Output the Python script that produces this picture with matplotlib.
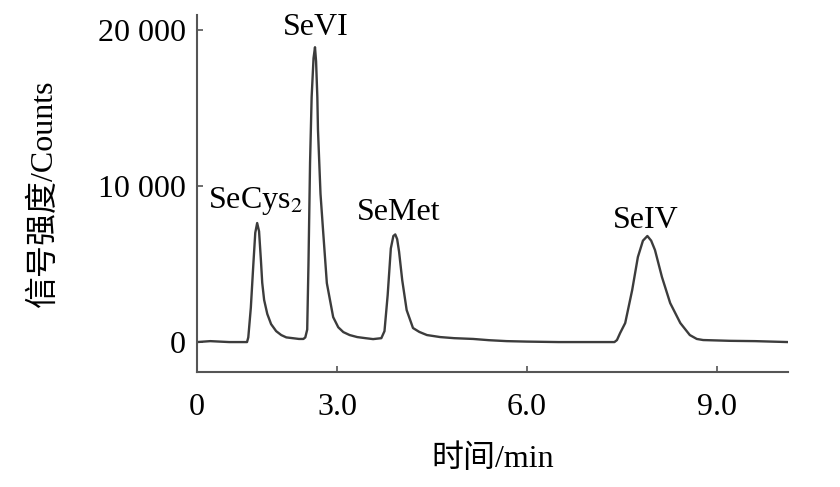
import matplotlib
matplotlib.use('Agg')
import matplotlib.pyplot as plt

plt.rcParams['font.family'] = ['Liberation Serif', 'Noto Sans CJK SC']
plt.rcParams['mathtext.fontset'] = 'stix'

# 色谱图数据
time_min = [0.79, 1.00, 1.30, 1.58,
            1.60, 1.64, 1.68, 1.71, 1.74, 1.77, 1.80, 1.82, 1.85, 1.90, 1.96, 2.04, 2.12, 2.20, 2.30, 2.40,
            2.47,
            2.50, 2.53, 2.55, 2.575, 2.60, 2.63, 2.653, 2.67, 2.69, 2.70, 2.74, 2.78, 2.84, 2.94, 3.02, 3.10,
            3.20, 3.32, 3.45, 3.57, 3.70,
            3.75, 3.80, 3.85, 3.89, 3.92, 3.95, 3.98, 4.03, 4.10, 4.20, 4.30, 4.42, 4.63, 4.85, 5.15, 5.40,
            5.68, 6.00, 6.50, 7.00, 7.38,
            7.42, 7.47, 7.55, 7.66, 7.75, 7.83, 7.90, 7.96, 8.02, 8.13, 8.26, 8.42, 8.57, 8.68, 8.78, 9.20,
            9.60, 10.12]
counts = [0, 60, 0, 0,
          300, 2200, 5000, 7000, 7630, 7100, 5200, 3800, 2700, 1800, 1150, 700, 450, 300, 250, 200,
          200,
          300, 800, 5000, 11500, 15700, 18200, 18900, 18000, 15700, 13600, 9500, 7180, 3780, 1600, 950, 640,
          450, 320, 250, 190, 250,
          700, 3000, 6000, 6800, 6900, 6600, 5800, 3970, 2050, 900, 650, 450, 320, 250, 200, 120,
          60, 30, 0, 0, 0,
          130, 580, 1220, 3330, 5450, 6500, 6800, 6500, 5900, 4170, 2500, 1220, 450, 200, 130, 80,
          60, 0]

# 峰标注
peak_names = ['SeCys$_2$', 'SeVI', 'SeMet', 'SeIV']
peak_x = [1.72, 2.67, 3.98, 7.88]
peak_y = [8590, 19680, 7820, 7310]

xticks = [0.79, 3.0, 6.0, 9.0]
xtick_labels = ['0', '3.0', '6.0', '9.0']
yticks = [0, 10000, 20000]
ytick_labels = ['0', '10 000', '20 000']

fig = plt.figure(figsize=(8.4, 4.87), dpi=100)
ax = fig.add_axes([0.2345, 0.236, 0.9381 - 0.2345, 0.969 - 0.236])

ax.plot(time_min, counts, color='#3c3c3c', lw=1.7)

for name, x, y in zip(peak_names, peak_x, peak_y):
    ax.text(x, y, name, ha='center', va='baseline', fontsize=23)

ax.set_xlim(0.79, 10.12)
ax.set_ylim(-1923, 20960)
ax.set_xticks(xticks)
ax.set_xticklabels(xtick_labels)
ax.set_yticks(yticks)
ax.set_yticklabels(ytick_labels)

for s in ['top', 'right']:
    ax.spines[s].set_visible(False)
for s in ['left', 'bottom']:
    ax.spines[s].set_color('#555555')
    ax.spines[s].set_linewidth(1.5)

ax.tick_params(axis='both', direction='in', length=4, width=1.2, color='#555555', labelsize=23)
ax.tick_params(axis='x', pad=15)
ax.tick_params(axis='y', pad=8)

ax.set_xlabel('时间/min', fontsize=23, labelpad=16)
ax.set_ylabel('信号强度/Counts', fontsize=23, labelpad=28)

fig.savefig('out.png', dpi=100)
